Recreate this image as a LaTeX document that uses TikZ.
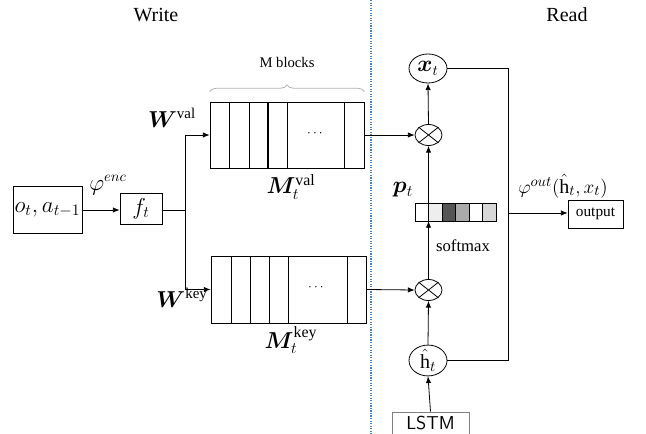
\documentclass[tikz,border=0pt]{standalone}
\usepackage{fontspec}
\setmainfont{Liberation Serif}
\usepackage{amsmath,bm}
\usetikzlibrary{arrows.meta,decorations.pathreplacing,shapes.geometric}
\definecolor{dotblue}{RGB}{70,130,200}
\definecolor{cellA}{RGB}{238,238,238}
\definecolor{cellB}{RGB}{85,85,85}
\definecolor{cellC}{RGB}{170,170,170}
\definecolor{cellD}{RGB}{215,215,215}
\begin{document}
\begin{tikzpicture}[x=0.75pt,y=-0.75pt,
  box/.style={draw,line width=0.6pt,inner sep=0pt,anchor=center},
  arr/.style={-{Latex[length=5pt,width=4pt]},line width=0.6pt},
  ln/.style={line width=0.6pt},
  oval/.style={draw,ellipse,inner sep=0pt,line width=0.6pt},
  title/.style={font=\fontsize{15}{17}\selectfont},
  lbl/.style={font=\fontsize{11}{13}\selectfont},
  mlbl/.style={font=\fontsize{16}{18}\selectfont,inner sep=1pt},
  big/.style={font=\fontsize{17}{19}\selectfont},
  cell/.style={draw,line width=0.5pt,minimum width=0.75*13.5pt,minimum height=0.75*18pt,inner sep=0pt},
]
\useasboundingbox (0,0) rectangle (646,434);
% titles
\node[title] (write) at (156,15) {Write};
\node[title] (read) at (567,15) {Read};
% divider
\draw[dotblue,densely dotted,line width=0.9pt] (371,0) -- (371,434);

% write side
\node[box,minimum width=0.75*69pt,minimum height=0.75*47pt,big] (obs) at (47.5,209.5) {$o_t,a_{t-1}$};
\node[box,minimum width=0.75*42pt,minimum height=0.75*31pt,big] (ft) at (141,208.5) {$f_t$};
\draw[arr] (obs.east |- 0,210) -- (ft.west |- 0,210);
\node[mlbl] (enc) at (108,185) {$\varphi^{enc}$};
\coordinate (split) at (185,210);
\draw[ln] (ft.east |- split) -- (split);

% memory boxes
\node[box,minimum width=0.75*154pt,minimum height=0.75*66pt] (val) at (287,135) {};
\node[box,minimum width=0.75*155pt,minimum height=0.75*67pt] (key) at (288.5,289.5) {};
\foreach \x/\w in {229/0.6,249/0.6,268/1.1,287/0.6,344/0.6}
  \draw[line width=\w pt] (\x,102) -- (\x,168);
\foreach \x in {231,250,269,288,347}
  \draw[ln] (\x,256) -- (\x,323);
\node (vdots) at (316,134) {$\cdots$};
\node (kdots) at (317,288) {$\cdots$};
\draw[arr] (split) |- (val.west);
\draw[arr] (split) |- (key.west);
\node[mlbl] (wval) at (172,118) {$\bm{W}^{\mathrm{val}}$};
\node[mlbl] (wkey) at (182,298) {$\bm{W}^{\mathrm{key}}$};
\node[big,inner sep=1pt] (mval) at (291,187) {$\bm{M}_t^{\mathrm{val}}$};
\node[big,inner sep=1pt] (mkey) at (291,340) {$\bm{M}_t^{\mathrm{key}}$};
\draw[gray!60,line width=0.6pt,decorate,decoration={brace,amplitude=5pt}] (val.north west)++(0,-10) -- ([yshift=7.5pt]val.north east);
\node[lbl] (mblocks) at (287,62) {M blocks};

% read side
\node[oval,minimum width=0.75*27pt,minimum height=0.75*21pt] (mul1) at (428.5,135) {};
\draw[ln] (mul1.north west) -- (mul1.south east) (mul1.north east) -- (mul1.south west);
\node[oval,minimum width=0.75*27pt,minimum height=0.75*21pt] (mul2) at (428.5,290) {};
\draw[ln] (mul2.north west) -- (mul2.south east) (mul2.north east) -- (mul2.south west);
\node[oval,minimum width=0.75*38pt,minimum height=0.75*29pt,font=\fontsize{16}{18}\selectfont] (xt) at (428,68.5) {$\bm{x}_t$};
\node[oval,minimum width=0.75*38pt,minimum height=0.75*29pt,font=\fontsize{15}{17}\selectfont] (ht) at (428,360.5) {$\hat{\mathrm{h}}_t$};
\node[draw=gray,line width=0.6pt,minimum width=0.75*77pt,minimum height=0.75*22pt,inner sep=0pt,font=\sffamily\fontsize{14}{16}\selectfont] (lstm) at (430.5,423) {LSTM};

% p_t bar
\node[cell,fill=white] (c1) at (421.75,212) {};
\node[cell,fill=cellA] (c2) at (435.25,212) {};
\node[cell,fill=cellB] (c3) at (448.75,212) {};
\node[cell,fill=cellC] (c4) at (462.25,212) {};
\node[cell,fill=white] (c5) at (475.75,212) {};
\node[cell,fill=cellD] (c6) at (489.25,212) {};
\coordinate (pbot) at (428.5,221);
\coordinate (ptop) at (428.5,203);
\node[big,inner sep=1pt] (pt) at (403,190) {$\bm{p}_t$};
\node[font=\fontsize{12.5}{14}\selectfont] (softmax) at (463,246) {softmax};

\draw[arr] (val.east) -- (mul1.west);
\draw[arr] (key.east) -- (mul2.west);
\draw[arr] (mul1.north) -- (xt.south);
\draw[arr] (ptop) -- (mul1.south);
\draw[arr] (mul2.north) -- (pbot);
\draw[arr] (lstm.north) -- (ht.south);
\draw[arr] (ht.north) -- (mul2.south);

\coordinate (junc) at (508,213);
\draw[ln] (xt.east) -| (junc);
\draw[ln] (ht.east) -| (junc);
\node[box,minimum width=0.75*55pt,minimum height=0.75*28pt] (out) at (595.5,214) {\fontsize{11.5}{13}\selectfont output};
\draw[arr] (junc) -- (out.west |- junc);
\node[font=\fontsize{15}{17}\selectfont,inner sep=1pt] (phiout) at (563,186) {$\varphi^{out}(\hat{\mathrm{h}}_t,x_t)$};
\end{tikzpicture}
\end{document}
